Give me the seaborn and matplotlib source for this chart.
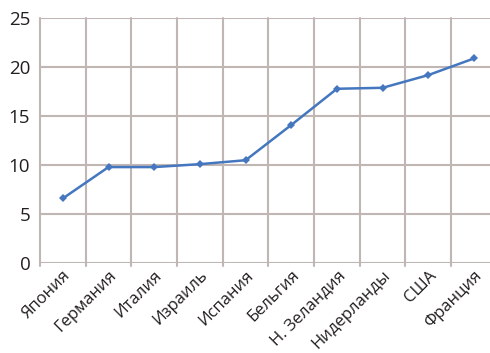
import matplotlib
matplotlib.use("Agg")
import matplotlib.pyplot as plt
import matplotlib.transforms as mtransforms
import seaborn as sns
import pandas as pd

countries = ["Япония", "Германия", "Италия", "Израиль", "Испания",
             "Бельгия", "Н. Зеландия", "Нидерланды", "США", "Франция"]
values = [6.6, 9.8, 9.8, 10.1, 10.5, 14.1, 17.8, 17.9, 19.2, 20.9]
y_ticks = [0, 5, 10, 15, 20, 25]

sns.set_style("white")
plt.rcParams["font.family"] = ["Open Sans", "DejaVu Sans"]

df = pd.DataFrame({"pos": range(len(countries)), "value": values})

fig = plt.figure(figsize=(4.9, 3.53), dpi=100)
ax = fig.add_axes([40 / 490, 1 - 263 / 353, 450 / 490, (263 - 18.3) / 353])

grid_color = "#c0b7b5"
# category borders between points
for b in [i - 0.5 for i in range(len(countries) + 1)]:
    ax.axvline(b, color=grid_color, lw=1.5, zorder=0, clip_on=False, ymin=-0.012)
for t in y_ticks:
    ax.axhline(t, color=grid_color, lw=1.5, zorder=0)

sns.lineplot(data=df, x="pos", y="value", ax=ax, color="#4477bf",
             lw=1.8, marker="D", markersize=3.8, markeredgewidth=0)

ax.set_xlim(-0.5, 9.35)
ax.set_ylim(0, 25)
ax.set_yticks(y_ticks)
ax.set_yticklabels([str(t) for t in y_ticks], fontsize=13.5, color="#231f20")
ax.set_xticks(range(len(countries)))
ax.set_xticklabels(countries, rotation=45, ha="right", va="top",
                   rotation_mode="anchor", fontsize=12.0, color="#231f20")
shift = mtransforms.ScaledTranslation(7 / 100, 0, fig.dpi_scale_trans)
for lbl in ax.get_xticklabels():
    lbl.set_transform(lbl.get_transform() + shift)
ax.tick_params(axis="x", length=0, pad=3)
ax.tick_params(axis="y", length=3, width=1.5, color=grid_color, pad=4)
ax.set_xlabel("")
ax.set_ylabel("")
for s in ax.spines.values():
    s.set_visible(False)

fig.savefig("out.png", dpi=100)
